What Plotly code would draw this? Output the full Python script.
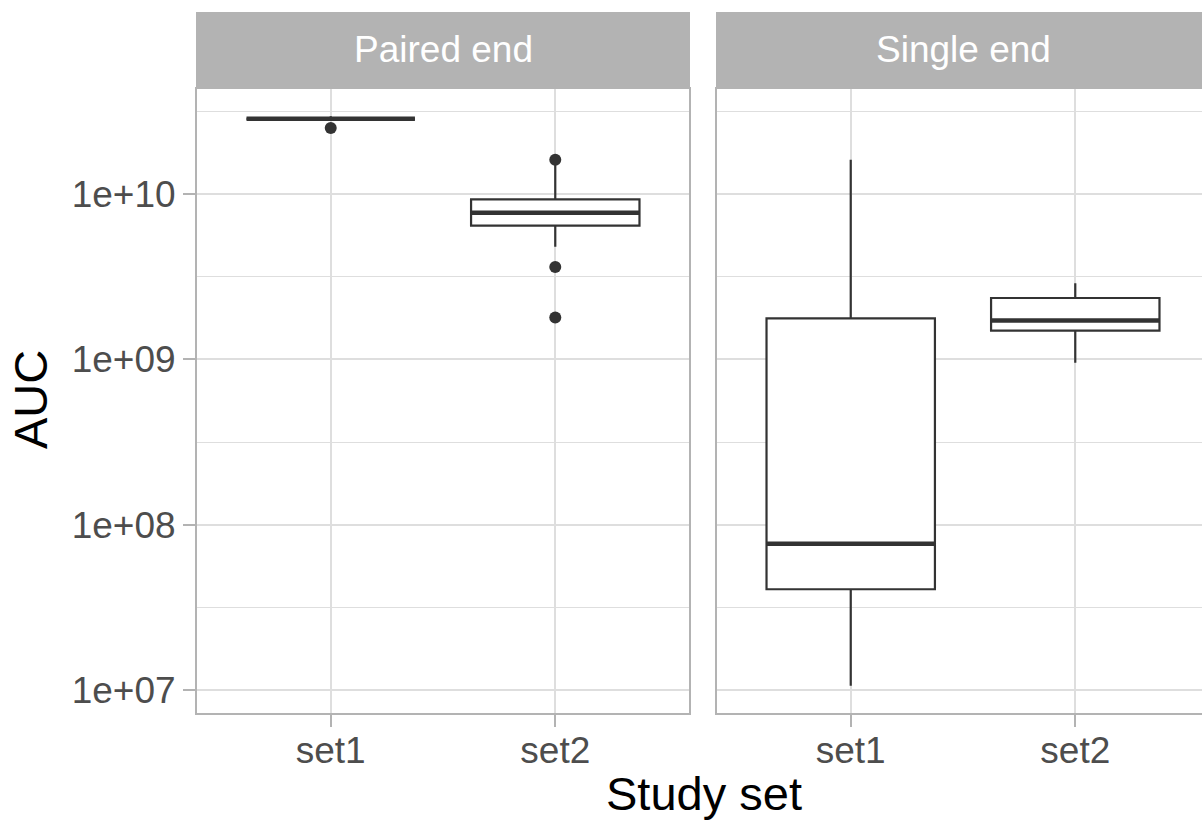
import plotly.graph_objects as go

# Facets and study sets
facets = ["Paired end", "Single end"]
sets = ["set1", "set2"]

# Box statistics of AUC per facet (rows) and study set (columns)
q1 = [[2.85e10, 6.43e9], [4.07e7, 1.49e9]]
median = [[2.85e10, 7.71e9], [7.67e7, 1.72e9]]
q3 = [[2.85e10, 9.29e9], [1.77e9, 2.35e9]]
lower_whisker = [[2.84e10, 4.8e9], [1.06e7, 9.55e8]]
upper_whisker = [[2.95e10, 1.55e10], [1.61e10, 2.88e9]]

# Outlying points per facet and study set
outliers = [[[2.51e10], [1.61e10, 3.62e9, 1.79e9]], [[], []]]

# Axis ticks
y_ticks = [1e7, 1e8, 1e9, 1e10]
y_tick_text = ["1e+07", "1e+08", "1e+09", "1e+10"]
y_minor = [10 ** 7.5, 10 ** 8.5, 10 ** 9.5, 10 ** 10.5]

W, H = 1202, 825
ML, MR, MT, MB = 196, 0, 88, 111
PW = W - ML - MR
PH = H - MT - MB
P1_W = 494          # width of the first panel in px
GAP = 26            # space between panels
P2_W = PW - P1_W - GAP
STRIP_H = 76

BOX_W = 0.75
DARK = "#333333"
GRID = "#DEDEDE"
FRAME = "#B3B3B3"
FONT = "Liberation Sans"
TICK_SIZE = 37
TITLE_SIZE = 47

fig = go.Figure()

for f in range(len(facets)):
    xa = "x" if f == 0 else "x2"
    ya = "y" if f == 0 else "y2"
    for s in range(len(sets)):
        pos = s + 1
        fig.add_trace(go.Box(
            x=[pos], q1=[q1[f][s]], median=[median[f][s]], q3=[q3[f][s]],
            lowerfence=[lower_whisker[f][s]], upperfence=[upper_whisker[f][s]],
            width=BOX_W, whiskerwidth=0, fillcolor="white",
            line=dict(color=DARK, width=2.2), boxpoints=False,
            xaxis=xa, yaxis=ya, showlegend=False, hoverinfo="skip",
        ))
        # thicker median bar, as in ggplot boxplots
        fig.add_trace(go.Scatter(
            x=[pos - BOX_W / 2, pos + BOX_W / 2],
            y=[median[f][s], median[f][s]],
            mode="lines", line=dict(color=DARK, width=4.5),
            xaxis=xa, yaxis=ya, showlegend=False, hoverinfo="skip",
        ))
        if outliers[f][s]:
            fig.add_trace(go.Scatter(
                x=[pos] * len(outliers[f][s]), y=outliers[f][s],
                mode="markers", marker=dict(color=DARK, size=12),
                xaxis=xa, yaxis=ya, showlegend=False, hoverinfo="skip",
            ))

x_common = dict(
    tickvals=[1, 2], ticktext=sets, showgrid=True, gridcolor=GRID, gridwidth=2,
    zeroline=False, showline=False, ticks="outside", ticklen=12, tickwidth=2,
    tickcolor=FRAME, tickfont=dict(family=FONT, size=TICK_SIZE, color="#4D4D4D"),
    ticklabelstandoff=-8, fixedrange=True,
)
y_common = dict(
    type="log", range=[6.855, 10.641], tickvals=y_ticks, ticktext=y_tick_text,
    showgrid=True, gridcolor=GRID, gridwidth=2, zeroline=False, showline=False,
    minor=dict(tickvals=y_minor, showgrid=True, gridcolor=GRID, gridwidth=1, ticks=""),
)

fig.update_layout(
    width=W, height=H,
    margin=dict(l=ML, r=MR, t=MT, b=MB, pad=0),
    paper_bgcolor="white", plot_bgcolor="white",
    xaxis=dict(domain=[0, P1_W / PW], range=[0.4, 2.6], anchor="y", **x_common),
    xaxis2=dict(domain=[(P1_W + GAP) / PW, 1], range=[0.4, 0.4 + 2.2 * P2_W / P1_W],
                anchor="y2", **x_common),
    yaxis=dict(domain=[0, 1], anchor="x", ticks="outside", ticklen=12, tickwidth=2,
               tickcolor=FRAME,
               tickfont=dict(family=FONT, size=TICK_SIZE, color="#4D4D4D"),
               **y_common),
    yaxis2=dict(domain=[0, 1], anchor="x2", matches="y", showticklabels=False,
                ticks="", **y_common),
    showlegend=False,
)

shapes = []
annotations = []
for f, name in enumerate(facets):
    xd = "x domain" if f == 0 else "x2 domain"
    yd = "y domain" if f == 0 else "y2 domain"
    right = 1 if f == 0 else P1_W / P2_W
    shapes.append(dict(type="rect", xref=xd, yref=yd, x0=0, x1=right, y0=1,
                       y1=1 + STRIP_H / PH, fillcolor=FRAME, line=dict(width=0),
                       layer="above"))
    shapes.append(dict(type="rect", xref=xd, yref=yd, x0=0, x1=right, y0=0, y1=1,
                       line=dict(color=FRAME, width=2), fillcolor="rgba(0,0,0,0)",
                       layer="above"))
    annotations.append(dict(text=name, xref=xd, yref=yd, x=right / 2,
                            y=1 + 39 / PH, showarrow=False, xanchor="center",
                            yanchor="middle",
                            font=dict(family=FONT, size=TICK_SIZE, color="white")))

annotations.append(dict(text="Study set", xref="paper", yref="paper",
                        x=(704 - ML) / PW, y=-(794 - (MT + PH)) / PH,
                        showarrow=False, xanchor="center", yanchor="middle",
                        font=dict(family=FONT, size=TITLE_SIZE, color="black")))
annotations.append(dict(text="AUC", xref="paper", yref="paper",
                        x=(30 - ML) / PW, y=(MT + PH - 400) / PH, textangle=-90,
                        showarrow=False, xanchor="center", yanchor="middle",
                        font=dict(family=FONT, size=TITLE_SIZE, color="black")))

fig.update_layout(shapes=shapes, annotations=annotations)

fig.write_html("out.html")
